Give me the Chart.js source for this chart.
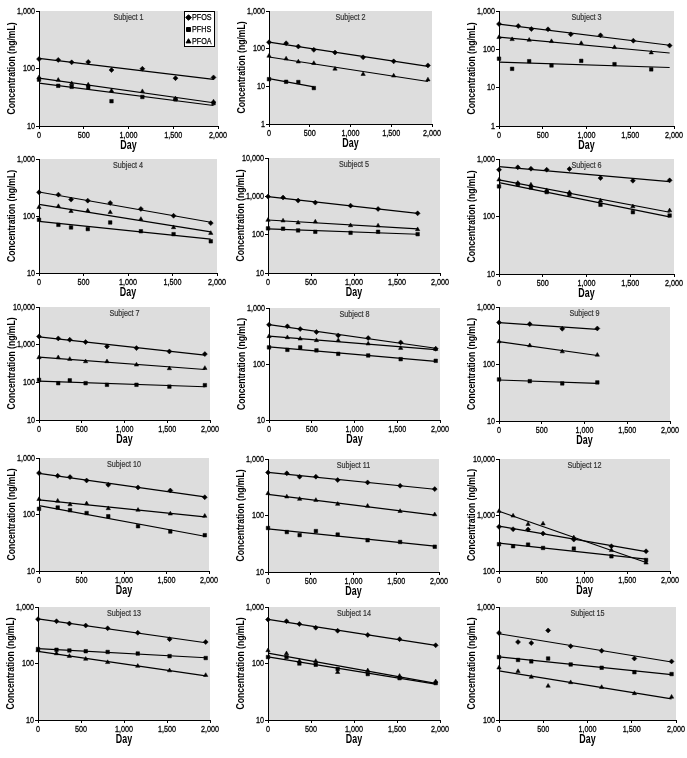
<!DOCTYPE html>
<html><head><meta charset="utf-8">
<script src="https://cdn.jsdelivr.net/npm/chart.js@4.4.0/dist/chart.umd.min.js"></script>
<style>
html,body{margin:0;padding:0;background:#fff;}
#wrap{position:relative;width:687px;height:758px;overflow:hidden;background:#fff;}
#wrap canvas{position:absolute;}
</style></head><body><div id="wrap"></div>
<script>
// ---------------- DATA ----------------
const seriesNames = ['PFOS', 'PFHS', 'PFOA'];
const xTicks = [0, 500, 1000, 1500, 2000];
const xTitle = 'Day';
const yTitle = 'Concentration (ng/mL)';

const days1 = [0, 215, 365, 550, 810, 1155, 1525, 1950];
const pfos1 = [146, 141, 128, 130, 94, 99, 68, 70];
const pfoa1 = [70, 63, 55, 52, 41, 40, 30, 26.5];
const pfhs1 = [64, 50, 48, 47, 27, 32, 29, 25];

const days2 = [0, 210, 360, 550, 810, 1155, 1530, 1950];
const days2b = [0, 210, 360, 550];
const pfos2 = [148, 139, 114, 93, 79, 59, 46, 36];
const pfoa2 = [64, 54, 45, 41, 29, 21, 19, 15];
const pfhs2 = [15.5, 13.2, 13, 9];

const days3 = [0, 220, 370, 560, 820, 1160, 1535, 1950];
const days3b = [0, 150, 345, 600, 940, 1320, 1740];
const pfos3 = [458, 406, 339, 333, 246, 232, 168, 125];
const pfoa3 = [206, 182, 175, 162, 144, 113, 82];
const pfhs3 = [57, 31, 49, 38, 50, 41, 30];
const lineEnd3 = 1950;

const days4 = [0, 218, 360, 548, 800, 1145, 1512, 1930];
const pfos4 = [260, 237, 194, 186, 169, 133, 101, 75];
const pfoa4 = [142, 148, 121, 124, 116, 88, 63, 50];
const pfhs4 = [86, 70, 63, 59, 77, 54, 48, 36];

const days5 = [0, 175, 350, 550, 960, 1280, 1740];
const pfos5 = [986, 929, 774, 686, 572, 468, 360];
const pfoa5 = [240, 231, 205, 217, 174, 171, 137];
const pfhs5 = [146, 143, 129, 119, 112, 119, 103];

const days6 = [0, 215, 365, 545, 805, 1160, 1530, 1950];
const pfos6 = [651, 716, 678, 651, 670, 466, 419, 425];
const pfoa6 = [436, 381, 356, 284, 262, 188, 149, 127];
const pfhs6 = [334, 366, 320, 266, 245, 160, 119, 104];

const days7 = [0, 225, 360, 545, 795, 1140, 1525, 1940];
const pfos7 = [1656, 1465, 1350, 1170, 897, 810, 661, 561];
const pfoa7 = [457, 457, 413, 358, 358, 292, 233, 238];
const pfhs7 = [116, 95, 113, 95, 86, 86, 77, 84];

const days8 = [0, 215, 365, 555, 810, 1160, 1540, 1950];
const pfos8 = [503, 470, 421, 372, 324, 290, 243, 187];
const pfoa8 = [311, 298, 282, 264, 264, 230, 192, 184];
const pfhs8 = [198, 179, 198, 175, 152, 142, 122, 114];

const days9 = [0, 360, 740, 1150];
const pfos9 = [536, 501, 415, 420];
const pfoa9 = [248, 211, 165, 144];
const pfhs9 = [53.6, 50, 45.6, 47.5];

const days10 = [0, 220, 365, 560, 815, 1165, 1545, 1950];
const pfos10 = [541, 484, 459, 400, 335, 301, 266, 202];
const pfoa10 = [186, 174, 150, 156, 128, 120, 103, 94];
const pfhs10 = [126, 133, 119, 106, 93, 62, 50, 43];

const days11 = [0, 220, 370, 560, 815, 1165, 1545, 1950];
const pfos11 = [578, 557, 486, 486, 424, 385, 336, 293];
const pfoa11 = [246, 215, 195, 187, 159, 147, 119, 104];
const pfhs11 = [60, 51, 45, 53, 46, 36.5, 34, 28];

const days12 = [0, 165, 340, 515, 875, 1315, 1720];
const pfoa12 = [1172, 966, 686, 700, 395, 234, 140];
const pfos12 = [614, 557, 550, 467, 364, 277, 225];
const pfhs12 = [301, 277, 296, 258, 251, 183, 157];

const days13 = [0, 215, 365, 555, 810, 1160, 1530, 1950];
const pfos13 = [610, 560, 510, 470, 420, 350, 270, 240];
const pfhs13 = [180, 175, 170, 165, 160, 150, 135, 125];
const pfoa13 = [170, 150, 135, 120, 105, 90, 75, 62];

const days14 = [0, 215, 365, 555, 810, 1160, 1530, 1950];
const pfos14 = [600, 560, 500, 430, 380, 320, 270, 210];
const pfoa14 = [170, 150, 110, 110, 70, 75, 60, 48];
const pfhs14 = [130, 130, 100, 95, 80, 65, 55, 45];

const days15 = [0, 215, 365, 555, 810, 1160, 1530, 1950];
const pfos15 = [590, 490, 480, 620, 450, 410, 350, 330];
const pfhs15 = [360, 340, 330, 350, 310, 290, 265, 255];
const pfoa15 = [290, 270, 240, 200, 215, 195, 172, 160];

const yMins = [10, 1, 1, 10, 10, 10, 10, 10, 10, 10, 10, 100, 10, 10, 100];
const yMaxs = [1000, 1000, 1000, 1000, 10000, 1000, 10000, 1000, 1000, 1000, 1000, 10000, 1000, 1000, 1000];

// table built from the arrays above (order: PFOS, PFHS, PFOA)
const subjects = [
  {days: [days1, days1, days1], vals: [pfos1, pfhs1, pfoa1]},
  {days: [days2, days2b, days2], vals: [pfos2, pfhs2, pfoa2]},
  {days: [days3, days3b, days3b], vals: [pfos3, pfhs3, pfoa3], lineTo: lineEnd3},
  {days: [days4, days4, days4], vals: [pfos4, pfhs4, pfoa4]},
  {days: [days5, days5, days5], vals: [pfos5, pfhs5, pfoa5]},
  {days: [days6, days6, days6], vals: [pfos6, pfhs6, pfoa6]},
  {days: [days7, days7, days7], vals: [pfos7, pfhs7, pfoa7]},
  {days: [days8, days8, days8], vals: [pfos8, pfhs8, pfoa8]},
  {days: [days9, days9, days9], vals: [pfos9, pfhs9, pfoa9]},
  {days: [days10, days10, days10], vals: [pfos10, pfhs10, pfoa10]},
  {days: [days11, days11, days11], vals: [pfos11, pfhs11, pfoa11]},
  {days: [days12, days12, days12], vals: [pfos12, pfhs12, pfoa12]},
  {days: [days13, days13, days13], vals: [pfos13, pfhs13, pfoa13]},
  {days: [days14, days14, days14], vals: [pfos14, pfhs14, pfoa14]},
  {days: [days15, days15, days15], vals: [pfos15, pfhs15, pfoa15]}
];

// ---------------- LAYOUT / STYLE ----------------
const panels = [
  {L: 39, R: 218, T: 11, B: 126}, {L: 269, R: 432, T: 11, B: 124}, {L: 499, R: 674, T: 11, B: 126},
  {L: 39, R: 217, T: 159, B: 273}, {L: 268, R: 440, T: 158, B: 273}, {L: 499, R: 674, T: 159, B: 274},
  {L: 39, R: 210, T: 307, B: 420}, {L: 269, R: 440, T: 308, B: 420}, {L: 499, R: 670, T: 307, B: 421},
  {L: 39, R: 209, T: 458, B: 571}, {L: 268, R: 439, T: 459, B: 572}, {L: 499, R: 670, T: 459, B: 571},
  {L: 38, R: 210, T: 607, B: 720}, {L: 268, R: 440, T: 607, B: 720}, {L: 499, R: 676, T: 607, B: 720}
];
const FONT = "'Liberation Sans', Arial, sans-serif";
const styles = ['rectRot', 'rect', 'triangle'];
const PAD_L = 39, PAD_T = 8, PAD_R = 16, PAD_B = 28;

function logFit(xs, ys) {
  const n = xs.length, ly = ys.map(Math.log);
  const mx = xs.reduce((a, b) => a + b, 0) / n, my = ly.reduce((a, b) => a + b, 0) / n;
  let sxy = 0, sxx = 0;
  for (let i = 0; i < n; i++) { sxy += (xs[i] - mx) * (ly[i] - my); sxx += (xs[i] - mx) ** 2; }
  const b = sxy / sxx, a = my - b * mx;
  return x => Math.exp(a + b * x);
}

// condensed text (the reference uses a narrow face)
function txt(ctx, s, x, y, o) {
  ctx.save();
  ctx.translate(x, y);
  if (o.rot) ctx.rotate(o.rot);
  ctx.scale(o.sx || 0.76, 1);
  ctx.font = (o.bold ? 'bold ' : '') + o.size + 'px ' + FONT;
  ctx.fillStyle = o.color || '#000';
  ctx.textAlign = o.align || 'center';
  ctx.textBaseline = 'middle';
  ctx.fillText(s, 0, 0);
  if (o.heavy) {
    ctx.strokeStyle = o.color || '#000';
    ctx.lineWidth = o.heavy;
    ctx.strokeText(s, 0, 0);
  }
  ctx.restore();
}

const decoPlugin = {
  id: 'panelDeco',
  beforeDraw(chart) {
    const {ctx, chartArea: a} = chart;
    ctx.save();
    ctx.fillStyle = '#dddddd';
    ctx.fillRect(a.left, a.top, a.right - a.left, a.bottom - a.top);
    ctx.restore();
  },
  afterDraw(chart) {
    const {ctx, chartArea: a, scales} = chart;
    const o = chart.options.plugins.panelDeco;
    // tick labels
    scales.y.ticks.forEach(t => {
      txt(ctx, Number(t.value).toLocaleString('en-US'), a.left - 4, scales.y.getPixelForValue(t.value), {size: 9.5, align: 'right', heavy: 0.3});
    });
    scales.x.ticks.forEach(t => {
      txt(ctx, Number(t.value).toLocaleString('en-US'), scales.x.getPixelForValue(t.value), a.bottom + 9, {size: 9.5, heavy: 0.3});
    });
    // axis titles
    txt(ctx, xTitle, (a.left + a.right) / 2, a.bottom + 20, {size: 12, bold: true, sx: 0.74});
    txt(ctx, yTitle, a.left - 27.5, (a.top + a.bottom) / 2, {size: 11, bold: true, rot: -Math.PI / 2, sx: 0.78});
    // subject label
    txt(ctx, o.title, (a.left + a.right) / 2, a.top + 7, {size: 9, color: '#333', sx: 0.8, heavy: 0.2});
    if (o.legend) {
      const w = 31, h = 36, x0 = a.right - 3 - w, y0 = a.top;
      ctx.save();
      ctx.fillStyle = '#fff';
      ctx.fillRect(x0, y0, w, h);
      ctx.strokeStyle = '#000';
      ctx.lineWidth = 1;
      ctx.strokeRect(x0 + 0.5, y0 + 0.5, w - 1, h - 1);
      seriesNames.forEach((nm, k) => {
        const yy = y0 + 6.5 + k * 12;
        ctx.fillStyle = '#000';
        ctx.strokeStyle = '#000';
        Chart.helpers.drawPoint(ctx, {pointStyle: styles[k], radius: 2.8, rotation: 0, borderWidth: 0.5}, x0 + 4.5, yy);
        txt(ctx, nm, x0 + 8, yy, {size: 9, align: 'left', sx: 0.8, heavy: 0.25});
      });
      ctx.restore();
    }
  }
};

const wrap = document.getElementById('wrap');
subjects.forEach((s, i) => {
  const p = panels[i];
  const w = p.R - p.L + PAD_L + PAD_R, h = p.B - p.T + PAD_T + PAD_B;
  const cv = document.createElement('canvas');
  cv.width = w; cv.height = h;
  cv.style.left = (p.L - PAD_L) + 'px';
  cv.style.top = (p.T - PAD_T) + 'px';
  cv.style.width = w + 'px'; cv.style.height = h + 'px';
  wrap.appendChild(cv);

  const datasets = [];
  s.vals.forEach((vals, k) => {
    const d = s.days[k];
    const f = logFit(d, vals);
    const x1 = s.lineTo || Math.max(...d);
    datasets.push({
      label: seriesNames[k] + ' fit', showLine: true, clip: false,
      data: [{x: 0, y: f(0)}, {x: x1, y: f(x1)}],
      borderColor: '#000', borderWidth: 1.2, pointRadius: 0
    });
    datasets.push({
      label: seriesNames[k], showLine: false, clip: 6,
      data: d.map((x, j) => ({x, y: vals[j]})),
      pointStyle: styles[k], pointRadius: 2.5, borderWidth: 0.5,
      backgroundColor: '#000', borderColor: '#000'
    });
  });

  const decades = [];
  for (let v = yMins[i]; v <= yMaxs[i] * 1.0001; v *= 10) decades.push(v);

  new Chart(cv, {
    type: 'scatter',
    data: {datasets},
    options: {
      responsive: false, animation: false, devicePixelRatio: 1,
      layout: {padding: {left: 0, top: PAD_T, right: PAD_R, bottom: 0}},
      events: [],
      plugins: {
        legend: {display: false}, tooltip: {enabled: false},
        panelDeco: {title: 'Subject ' + (i + 1), legend: i === 0}
      },
      scales: {
        x: {
          type: 'linear', min: 0, max: 2000,
          afterFit: sc => { sc.height = PAD_B; },
          afterBuildTicks: sc => { sc.ticks = xTicks.map(v => ({value: v})); },
          ticks: {display: false},
          grid: {drawOnChartArea: false, drawTicks: true, tickLength: 3, color: '#000', lineWidth: 1},
          border: {display: true, color: '#000', width: 1},
          title: {display: false}
        },
        y: {
          type: 'logarithmic', min: yMins[i], max: yMaxs[i],
          afterFit: sc => { sc.width = PAD_L; },
          afterBuildTicks: sc => { sc.ticks = decades.map(v => ({value: v, major: true})); },
          ticks: {display: false},
          grid: {drawOnChartArea: false, drawTicks: true, tickLength: 3, color: '#000', lineWidth: 1},
          border: {display: true, color: '#000', width: 1},
          title: {display: false}
        }
      }
    },
    plugins: [decoPlugin]
  });
});
</script>
</body></html>
